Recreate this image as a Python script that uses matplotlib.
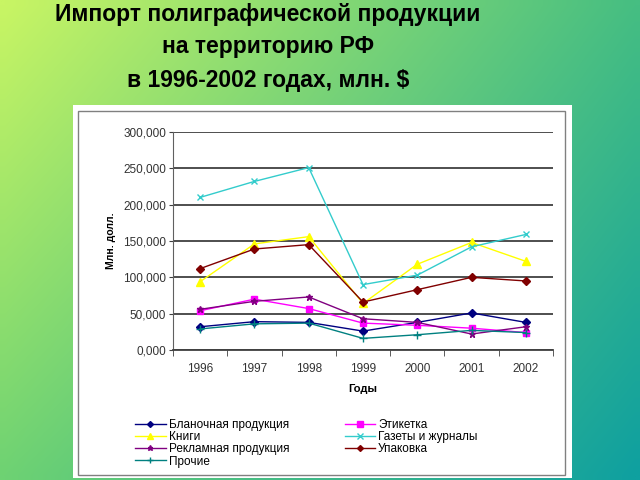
import matplotlib.pyplot as plt
import matplotlib.patches as patches
import numpy as np

plt.rcParams['font.family'] = ['Liberation Sans', 'DejaVu Sans']

years = ['1996', '1997', '1998', '1999', '2000', '2001', '2002']
blanochnaya = [32, 39, 38, 26, 38, 51, 38]
etiketka = [54, 70, 57, 37, 34, 30, 24]
knigi = [94, 146, 156, 64, 118, 148, 122]
gazety = [210, 232, 251, 90, 103, 142, 159]
reklamnaya = [56, 67, 73, 43, 38, 22, 32]
upakovka = [112, 139, 145, 66, 83, 100, 95]
prochie = [29, 36, 37, 16, 21, 27, 24]

series = [
    ('Бланочная продукция', blanochnaya, '#000080', 'D', 4),
    ('Этикетка', etiketka, '#ff00ff', 's', 5),
    ('Книги', knigi, '#ffff00', '^', 6),
    ('Газеты и журналы', gazety, '#33cccc', 'x', 5),
    ('Рекламная продукция', reklamnaya, '#800080', '*', 5),
    ('Упаковка', upakovka, '#800000', 'D', 4),
    ('Прочие', prochie, '#008080', '+', 6),
]

W, H = 640, 480
fig = plt.figure(figsize=(W / 100, H / 100), dpi=100)

# gradient background
bg = fig.add_axes([0, 0, 1, 1], zorder=-5)
tl = np.array([200, 245, 100]) / 255
tr = np.array([70, 190, 130]) / 255
bl = np.array([110, 210, 115]) / 255
br = np.array([15, 160, 160]) / 255
u = np.linspace(0, 1, 64)[None, :, None]
v = np.linspace(0, 1, 48)[:, None, None]
img = (1 - v) * ((1 - u) * tl + u * tr) + v * ((1 - u) * bl + u * br)
bg.imshow(img, aspect='auto', extent=[0, 1, 0, 1], interpolation='bilinear')
bg.set_axis_off()

def frect(x0, y0, x1, y1, **kw):
    r = patches.Rectangle((x0 / W, 1 - y1 / H), (x1 - x0) / W, (y1 - y0) / H,
                          transform=fig.transFigure, **kw)
    fig.patches.append(r)

frect(73, 105, 572, 478, facecolor='white', edgecolor='none', zorder=-2)
frect(78, 111, 565, 475, facecolor='none', edgecolor='#808080', lw=1.0, zorder=-1)

tx = 268 / W
fig.text(tx, 1 - 14 / H, 'Импорт полиграфической продукции',
         ha='center', va='center', fontsize=16.5, fontweight='bold')
fig.text(tx, 1 - 47 / H, 'на территорию РФ',
         ha='center', va='center', fontsize=16.5, fontweight='bold')
fig.text(tx, 1 - 80 / H, 'в 1996-2002 годах, млн. $',
         ha='center', va='center', fontsize=16.5, fontweight='bold')

ax = fig.add_axes([173 / W, 1 - 350 / H, (553 - 173) / W, (350 - 132) / H], zorder=2)
ax.set_facecolor('none')
x = np.arange(len(years))
handles = []
for name, vals, col, mk, ms in series:
    h, = ax.plot(x, vals, color=col, marker=mk, markersize=ms, lw=1.0,
                 markeredgewidth=1.0, label=name)
    handles.append(h)

ax.set_xlim(-0.5, len(years) - 0.5)
ax.set_ylim(0, 300)
ax.set_yticks(np.arange(0, 301, 50))
ax.set_yticklabels([f'{t:.3f}'.replace('.', ',') for t in np.arange(0, 301, 50)])
ax.set_xticks(x)
ax.set_xticklabels(years)
ax.set_xticks(np.arange(-0.5, len(years)), minor=True)
ax.tick_params(axis='x', which='major', length=0, pad=9, labelsize=8.5, colors='#333333')
ax.tick_params(axis='x', which='minor', length=4, color='#404040', direction='out')
ax.tick_params(axis='y', length=3, color='#404040', labelsize=8.5, labelcolor='#333333', pad=2)
ax.grid(axis='y', color='#404040', lw=1.3)
ax.set_axisbelow(True)
for s in ['top', 'right']:
    ax.spines[s].set_visible(False)
ax.spines['left'].set_color('#606060')
ax.spines['bottom'].set_color('#404040')
ax.spines['bottom'].set_linewidth(1.3)

ax.set_xlabel('Годы', fontsize=8, fontweight='bold', labelpad=7)
ax.set_ylabel('Млн. долл.', fontsize=7.5, fontweight='bold', labelpad=5)

order = [0, 2, 4, 6, 1, 3, 5]
fig.legend([handles[i] for i in order], [series[i][0] for i in order],
           ncol=2, loc='upper left', bbox_to_anchor=(129 / W, 1 - 413 / H),
           frameon=False, fontsize=8.5, handlelength=2.6, handletextpad=0.25,
           labelspacing=0.02, columnspacing=4.7, borderpad=0, markerscale=0.75)

fig.savefig('out.png', dpi=100)
